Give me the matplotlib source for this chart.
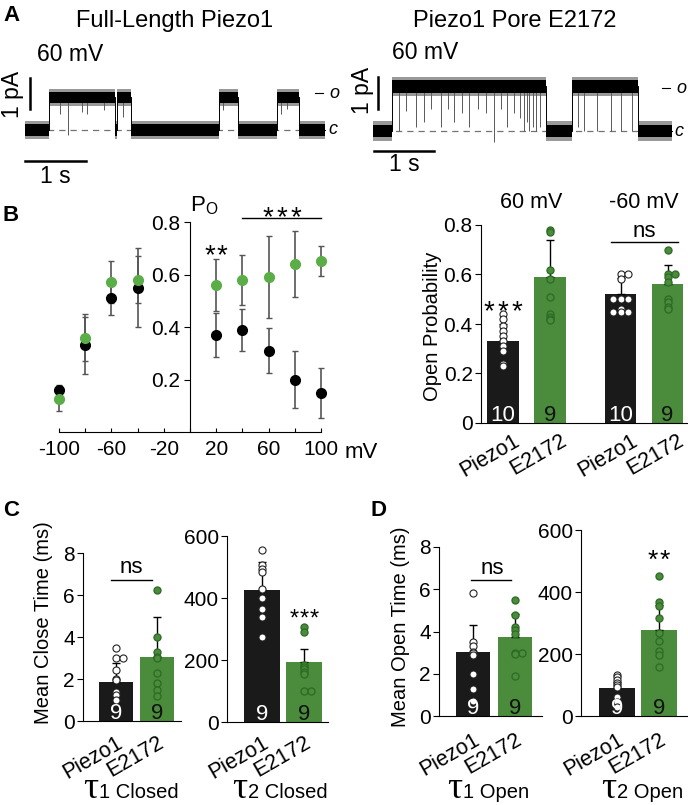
import numpy as np
import matplotlib
matplotlib.use('Agg')
import matplotlib.pyplot as plt
from matplotlib import transforms

plt.rcParams['font.family'] = ['Liberation Sans', 'DejaVu Sans']
plt.rcParams['mathtext.fontset'] = 'custom'
plt.rcParams['mathtext.rm'] = 'Liberation Sans'

# ---- panel A: single channel traces (dwell states, s / pA) ----
tr1_edges = [0, 0.39, 1.48, 1.51, 1.74, 3.18, 3.49, 4.13, 4.49, 4.92]
tr1_states = [0, 1, 0, 1, 0, 1, 0, 1, 0]
tr1_amp = 1.05
tr1_spikes = [(0.70, 1.15), (0.57, 0.5), (0.93, 0.45), (1.02, 0.5), (1.30, 0.4),
              (1.60, 0.6), (3.25, 0.4), (4.20, 0.5), (4.30, 0.35)]

tr2_edges = [0, 0.32, 2.88, 3.32, 4.42, 4.98]
tr2_states = [0, 1, 0, 1, 0]
tr2_amp = 1.4
tr2_spikes = [(0.43, 1.0), (0.55, 0.55), (0.71, 0.9), (0.85, 0.8), (0.97, 0.5), (1.13, 0.9),
              (1.25, 0.5), (1.35, 0.8), (1.48, 0.6), (1.60, 0.9), (1.75, 0.5), (1.88, 0.6),
              (2.02, 1.25), (2.13, 0.5), (2.24, 0.9), (2.35, 0.6), (2.45, 0.7), (2.52, 1.0),
              (2.56, 0.8), (2.60, 1.0), (2.66, 0.9), (2.71, 1.0), (2.79, 0.9), (3.41, 0.9),
              (3.52, 1.0), (3.74, 1.0), (3.96, 1.0), (4.13, 1.0), (4.32, 1.0)]

# ---- panel B: Po vs voltage ----
volt = [-100, -80, -60, -40, 20, 40, 60, 80, 100]
po_piezo1 = [0.16, 0.33, 0.51, 0.55, 0.37, 0.39, 0.31, 0.20, 0.15]
po_piezo1_err = [0.02, 0.11, 0.065, 0.15, 0.085, 0.08, 0.085, 0.11, 0.095]
po_e2172 = [0.125, 0.36, 0.57, 0.58, 0.56, 0.58, 0.59, 0.64, 0.65]
po_e2172_err = [0.045, 0.09, 0.08, 0.09, 0.10, 0.095, 0.155, 0.125, 0.057]

# ---- panel B: open probability bars ----
bar_labels = ['Piezo1', 'E2172', 'Piezo1', 'E2172']
po_mean = [0.33, 0.59, 0.52, 0.56]
po_err = [0.07, 0.15, 0.065, 0.08]
po_n = [10, 9, 10, 9]
po_pts = [[0.44, 0.42, 0.39, 0.37, 0.35, 0.33, 0.31, 0.29, 0.24, 0.23],
          [0.78, 0.77, 0.62, 0.58, 0.51, 0.44, 0.43, 0.42, 0.415],
          [0.60, 0.60, 0.58, 0.50, 0.50, 0.50, 0.46, 0.45, 0.45, 0.45],
          [0.70, 0.60, 0.60, 0.59, 0.57, 0.50, 0.49, 0.47, 0.46]]

# ---- panel C: closed times ----
grp = ['Piezo1', 'E2172']
close1_mean = [1.85, 3.05]
close1_err = [0.9, 1.9]
close1_pts = [[3.5, 3.0, 3.0, 2.45, 2.0, 1.95, 1.4, 1.25, 1.0],
              [6.25, 4.0, 3.3, 3.05, 3.0, 2.3, 1.8, 1.5, 1.2]]
close2_mean = [425, 195]
close2_err = [90, 40]
close2_pts = [[555, 505, 495, 485, 430, 400, 365, 340, 275],
              [305, 290, 185, 178, 170, 160, 155, 100, 100]]

# ---- panel D: open times ----
open1_mean = [3.05, 3.75]
open1_err = [1.25, 1.1]
open1_pts = [[5.8, 3.5, 3.3, 3.05, 3.0, 2.9, 2.0, 1.3, 0.7],
             [5.5, 4.8, 4.2, 4.05, 3.9, 3.0, 3.0, 2.95, 1.9]]
open2_mean = [90, 277]
open2_err = [20, 80]
open2_pts = [[132, 125, 115, 108, 100, 95, 60, 45, 30],
             [453, 368, 355, 315, 268, 243, 210, 197, 157]]
n_cells = [9, 9]

BLACK = '#1a1a1a'
GREEN_BAR = '#4a8b3c'
GREEN_EDGE = '#2c6a24'
GREEN_PT = '#5aad47'

W, H = 688, 805
fig = plt.figure(figsize=(6.88, 8.05), dpi=100)


def box(l, t, r, b):
    return [l / W, 1 - b / H, (r - l) / W, (b - t) / H]


def ft(x, y, s, **kw):
    return fig.text(x / W, 1 - y / H, s, **kw)


def stars(ax, x, y, n, size, gap):
    # one asterisk per glyph, spaced gap px apart; arial '*' sits high so drop the baseline
    for k in range(n):
        dx = (k - (n - 1) / 2) * gap / 100
        off = transforms.ScaledTranslation(dx, -0.58 * size / 72, fig.dpi_scale_trans)
        ax.text(x, y, '*', fontsize=size, ha='center', va='baseline',
                transform=ax.transData + off, clip_on=False)


def draw_trace(ax, edges, states, amp, noise, spikes, xo, xc):
    lv = np.array([s * amp for s in states] + [states[-1] * amp])
    ax.hlines(0, edges[0], edges[-1], colors='0.45', linestyles=(0, (5, 4)), lw=0.9, zorder=0)
    ax.fill_between(edges, lv - noise * 1.5, lv + noise * 1.5, step='post', color='0.6', lw=0, zorder=1)
    ax.fill_between(edges, lv - noise, lv + noise, step='post', color='black', lw=0, zorder=2)
    ax.step(edges, lv, where='post', color='black', lw=0.7, zorder=2)
    for t, d in spikes:
        ax.vlines(t, amp - d * amp, amp, color='0.35', lw=0.7, zorder=1.5)
    ax.plot([xo[0], xo[1]], [xo[2], xo[2]], color='black', lw=0.8)
    ax.text(xo[1] + 0.1, xo[2], 'o', style='italic', fontsize=13, ha='left', va='center')
    ax.text(xc, 0, 'c', style='italic', fontsize=13, ha='left', va='center')


# trace 1
a1 = fig.add_axes(box(0, 40, 340, 180))
a1.set_xlim(-0.41, 5.164)
a1.set_ylim(-1.613, 2.903)
a1.axis('off')
draw_trace(a1, tr1_edges, tr1_states, tr1_amp, 0.19, tr1_spikes, (4.75, 4.89, 1.19), 4.98)
a1.plot([0.08, 0.08], [0.68, 1.68], color='black', lw=1.8)
a1.plot([0, 1], [-1.0, -1.0], color='black', lw=1.8)
a1.text(-0.21, 1.16, '1 pA', rotation=90, ha='center', va='center', fontsize=16.5)
a1.text(0.74, 2.45, '60 mV', ha='center', va='center', fontsize=16.5)
a1.text(0.49, -1.5, '1 s', ha='center', va='center', fontsize=16.5)

# trace 2
a2 = fig.add_axes(box(344, 40, 688, 180))
a2.set_xlim(-0.483, 5.25)
a2.set_ylim(-1.531, 2.844)
a2.axis('off')
draw_trace(a2, tr2_edges, tr2_states, tr2_amp, 0.2, tr2_spikes, (4.82, 4.95, 1.34), 5.03)
a2.plot([0.083, 0.083], [0.69, 1.69], color='black', lw=1.8)
a2.plot([0.017, 1.017], [-0.625, -0.625], color='black', lw=1.8)
a2.text(-0.167, 1.28, '1 pA', rotation=90, ha='center', va='center', fontsize=16.5)
a2.text(0.87, 2.44, '60 mV', ha='center', va='center', fontsize=16.5)
a2.text(0.52, -1.06, '1 s', ha='center', va='center', fontsize=16.5)

ft(175, 21, 'Full-Length Piezo1', ha='center', va='center', fontsize=17)
ft(515, 21, 'Piezo1 Pore E2172', ha='center', va='center', fontsize=17)

# ---- B left ----
ab = fig.add_axes(box(53.8, 208.9, 326.2, 432))
ab.set_xlim(-104, 104)
ab.set_ylim(0, 0.85)
for s in ['top', 'right']:
    ab.spines[s].set_visible(False)
ab.spines['left'].set_position(('data', 0))
ab.spines['left'].set_bounds(0, 0.8)
ab.spines['bottom'].set_bounds(-100, 100)
ab.set_xticks(range(-100, 101, 20))
ab.set_xticklabels([str(v) if v in (-100, -60, -20, 20, 60, 100) else '' for v in range(-100, 101, 20)])
ab.set_yticks([0.2, 0.4, 0.6, 0.8])
ab.set_yticklabels(['0.2', '0.4', '0.6', '0.8'])
ab.tick_params(axis='x', direction='in', length=3, pad=6, labelsize=15)
ab.tick_params(axis='y', direction='out', length=4, pad=3, labelsize=15)
ab.patch.set_alpha(0)
for yv, ye, c in [(po_piezo1, po_piezo1_err, 'black'), (po_e2172, po_e2172_err, GREEN_PT)]:
    eb = ab.errorbar(volt, yv, yerr=ye, fmt='o', ms=7, color=c, mec=c, ecolor='#555555',
                     elinewidth=1.2, capsize=2.5, capthick=1, zorder=3)
    for art in eb.get_children():
        art.set_clip_on(False)
stars(ab, 20, 0.705, 2, 20, 12)
ab.plot([40, 100], [0.815, 0.815], color='black', lw=1, clip_on=False)
stars(ab, 70, 0.85, 3, 20, 14)
ft(204, 206, r'P$_\mathrm{O}$', ha='center', va='center', fontsize=16)
ft(361, 452, 'mV', ha='center', va='center', fontsize=16)


def spread(vals, tol, step):
    offs = np.zeros(len(vals))
    seen = []
    for i, v in enumerate(vals):
        k = sum(1 for u in seen if abs(u - v) < tol)
        seen.append(v)
        if k:
            offs[i] = ((k + 1) // 2) * step * (1 if k % 2 else -1)
    return offs


def bar_panel(rect, xlim, ymax, yticks, pos, width, labels, means, errs, pts, ns, dx, pad):
    ax = fig.add_axes(box(*rect))
    ax.set_xlim(xlim)
    ax.set_ylim(0, ymax)
    ax.patch.set_alpha(0)
    for s in ['top', 'right']:
        ax.spines[s].set_visible(False)
    for i, p in enumerate(pos):
        green = labels[i] == 'E2172'
        ax.bar(p, means[i], width, color=GREEN_BAR if green else BLACK, zorder=1)
        ax.errorbar(p, means[i], yerr=[[0], [errs[i]]], fmt='none', ecolor='black',
                    elinewidth=1, capsize=3, capthick=1, zorder=2)
        v = np.array(pts[i])
        xs = p + spread(v, 0.004 * ymax, 0.17)
        if green:
            ax.scatter(xs, v, s=26, facecolor=GREEN_BAR, edgecolor=GREEN_EDGE, lw=0.9, zorder=3, clip_on=False)
        else:
            ax.scatter(xs, v, s=26, facecolor='white', edgecolor='#222222', lw=0.8, zorder=3, clip_on=False)
        ax.text(p, 0.012 * ymax, str(ns[i]), color='#111111' if green else 'white',
                ha='center', va='baseline', fontsize=16, zorder=4)
    ax.set_yticks(yticks)
    ax.tick_params(axis='y', direction='out', length=4, pad=2, labelsize=15)
    ax.set_xticks(pos)
    ax.set_xticklabels(labels, rotation=30, ha='right', rotation_mode='anchor')
    ax.tick_params(axis='x', length=0, pad=pad * 0.72, labelsize=15.5)
    off = transforms.ScaledTranslation(dx / 100, 0, fig.dpi_scale_trans)
    for lab in ax.get_xticklabels():
        lab.set_transform(lab.get_transform() + off)
    return ax


# ---- B right ----
abr = bar_panel((481, 225, 688, 423), (-0.468, 3.936), 0.8, [0, 0.2, 0.4, 0.6, 0.8],
                [0, 1, 2.5, 3.5], 0.66, bar_labels, po_mean, po_err, po_pts, po_n, 10, 7)
abr.set_yticklabels(['0', '0.2', '0.4', '0.6', '0.8'])
stars(abr, 0, 0.485, 3, 20, 14)
abr.text(0.6, 0.889, '60 mV', ha='center', va='center', fontsize=15.5, clip_on=False)
abr.text(3.0, 0.889, '-60 mV', ha='center', va='center', fontsize=15.5, clip_on=False)
abr.text(3.0, 0.775, 'ns', ha='center', va='center', fontsize=16, clip_on=False)
abr.plot([2.3, 3.72], [0.731, 0.731], color='black', lw=1, clip_on=False)
ft(432, 326, 'Open Probability', rotation=90, ha='center', va='center', fontsize=14.5)

# ---- C ----
ac1 = bar_panel((83.2, 553, 181, 721), (-0.8, 1.585), 8, [0, 2, 4, 6, 8],
                [0, 1], 0.85, grp, close1_mean, close1_err, close1_pts, n_cells, 0, 11)
ac1.text(0.38, 7.3, 'ns', ha='center', va='center', fontsize=16, clip_on=False)
ac1.plot([-0.12, 0.88], [6.71, 6.71], color='black', lw=1, clip_on=False)
ac2 = bar_panel((227, 536, 328, 722), (-0.833, 1.571), 600, [0, 200, 400, 600],
                [0, 1], 0.88, grp, close2_mean, close2_err, close2_pts, n_cells, 0, 10)
stars(ac2, 1, 355, 3, 17, 10)
ft(44, 623, 'Mean Close Time (ms)', rotation=90, ha='center', va='center', fontsize=14.5)

# ---- D ----
ad1 = bar_panel((439, 547, 542, 716), (-0.81, 1.643), 8, [0, 2, 4, 6, 8],
                [0, 1], 0.83, grp, open1_mean, open1_err, open1_pts, n_cells, 0, 13)
ad1.text(0.45, 7.0, 'ns', ha='center', va='center', fontsize=16, clip_on=False)
ad1.plot([-0.05, 0.9], [6.44, 6.44], color='black', lw=1, clip_on=False)
ad2 = bar_panel((581, 530, 687, 716), (-0.857, 1.667), 600, [0, 200, 400, 600],
                [0, 1], 0.86, grp, open2_mean, open2_err, open2_pts, n_cells, 0, 13)
stars(ad2, 1, 526, 2, 19, 12)
ft(401, 627, 'Mean Open Time (ms)', rotation=90, ha='center', va='center', fontsize=14.5)

# tau labels
for xt, sub in [(98, '1 Closed'), (247, '2 Closed'), (462, '1 Open'), (616, '2 Open')]:
    ft(xt, 798, 'τ', family='Liberation Serif', fontsize=27, ha='right', va='baseline')
    ft(xt + 1, 798, sub, fontsize=14.5, ha='left', va='baseline')

# panel letters
for x, y, s in [(3, 5, 'A'), (3, 205, 'B'), (3, 500, 'C'), (371, 500, 'D')]:
    ft(x, y, s, fontsize=16, fontweight='bold', ha='left', va='top')

fig.savefig('out.png', dpi=100)
